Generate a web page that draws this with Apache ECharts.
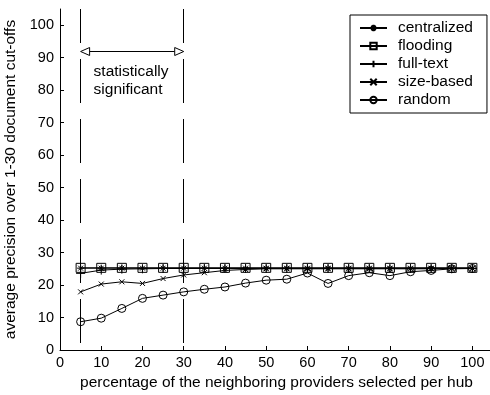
<!DOCTYPE html>
<html>
<head>
<meta charset="utf-8">
<script src="https://cdn.jsdelivr.net/npm/echarts@6/dist/echarts.min.js"></script>
<style>html,body{margin:0;padding:0;background:#fff}#c{width:490px;height:395px}</style>
</head>
<body>
<div id="c"></div>
<script>
var xValues = [5,10,15,20,25,30,35,40,45,50,55,60,65,70,75,80,85,90,95,100];
var centralized = [25.2,25.2,25.2,25.2,25.2,25.2,25.2,25.2,25.2,25.2,25.2,25.2,25.2,25.2,25.2,25.2,25.2,25.2,25.2,25.2];
var flooding = [25.3,25.3,25.3,25.3,25.3,25.3,25.3,25.3,25.3,25.3,25.3,25.3,25.3,25.3,25.3,25.3,25.3,25.3,25.3,25.3];
var fullText = [23.6,24.6,24.9,25.0,25.1,25.1,25.1,25.1,25.1,25.1,25.1,25.1,25.1,25.1,25.1,25.1,25.1,25.1,25.1,25.1];
var sizeBased = [17.9,20.3,21.0,20.5,22.0,23.1,23.8,24.5,24.8,25.0,25.0,25.0,25.0,25.0,25.0,25.0,25.0,25.0,25.1,25.1];
var random = [8.7,9.8,12.8,15.9,16.9,17.9,18.7,19.4,20.6,21.5,21.8,23.7,20.5,22.9,23.8,22.9,24.1,24.5,25.0,25.1];
var xTicks = [0,10,20,30,40,50,60,70,80,90,100];
var yTicks = [0,10,20,30,40,50,60,70,80,90,100];
var seriesNames = ['centralized','flooding','full-text','size-based','random'];
var sigRange = [5, 30];
var arrowY = 92;

var FONT = "'Liberation Sans', Arial, Helvetica, sans-serif";
function pairs(ys){ return xValues.map(function(x,i){ return [x, ys[i]]; }); }
var symbols = {
  'centralized': 'path://M0,5L10,5M5,0L5,10M1.5,1.5L8.5,8.5M8.5,1.5L1.5,8.5',
  'flooding': 'path://M0,0L10,0L10,10L0,10Z',
  'full-text': 'path://M0,5L10,5M5,0L5,10',
  'size-based': 'path://M0,0L10,10M10,0L0,10',
  'random': 'circle'
};
var sizes = {'centralized':7,'flooding':9,'full-text':9,'size-based':5,'random':8};
var dataMap = {'centralized':centralized,'flooding':flooding,'full-text':fullText,'size-based':sizeBased,'random':random};

var chart = echarts.init(document.getElementById('c'), null, {renderer:'canvas'});
var series = seriesNames.map(function(n, idx){
  var s = {
    name: n, type: 'line', data: pairs(dataMap[n]),
    symbol: symbols[n], symbolSize: sizes[n], showAllSymbol: true,
    lineStyle: {color:'#000', width:1},
    itemStyle: {color: 'rgba(0,0,0,0)', borderColor:'#000', borderWidth:1},
    z: 5 - idx
  };
  if (idx === 0) {
    s.markLine = {
      silent: true, symbol: 'none', label: {show:false},
      lineStyle: {color:'#000', width:1, type:[44,16], dashOffset: 10},
      data: [
        [{coord:[sigRange[0], 105]}, {coord:[sigRange[0], 0]}],
        [{coord:[sigRange[1], 105]}, {coord:[sigRange[1], 0]}]
      ]
    };
  }
  return s;
});

chart.setOption({
  animation: false,
  backgroundColor: '#fff',
  textStyle: {fontFamily: FONT},
  grid: {left: 60, right: -3, top: 9, bottom: 45, outerBoundsMode: 'none', containLabel: false},
  xAxis: {
    type: 'value', min: 0, max: 105,
    axisLine: {lineStyle: {color:'#000', width:1}},
    axisTick: {inside: true, length: 4, customValues: xTicks, lineStyle:{color:'#000'}},
    axisLabel: {customValues: xTicks, color:'#000', fontSize:14.5, fontFamily: FONT, margin: 5},
    splitLine: {show:false},
    name: 'percentage of the neighboring providers selected per hub',
    nameLocation: 'middle', nameGap: 23,
    nameTextStyle: {color:'#000', fontSize:15.5, fontFamily: FONT}
  },
  yAxis: {
    type: 'value', min: 0, max: 105,
    axisLine: {show:true, lineStyle: {color:'#000', width:1}},
    axisTick: {show:true, inside: true, length: 4, customValues: yTicks, lineStyle:{color:'#000'}},
    axisLabel: {customValues: yTicks, color:'#000', fontSize:14.5, fontFamily: FONT, margin: 6},
    splitLine: {show:false},
    name: 'average precision over 1-30 document cut-offs',
    nameLocation: 'middle', nameGap: 40,
    nameTextStyle: {color:'#000', fontSize:15.5, fontFamily: FONT}
  },
  legend: {
    orient: 'vertical', left: 350, top: 15,
    data: seriesNames,
    itemWidth: 27, itemHeight: 8, itemGap: 2,
    padding: [5, 14, 5, 9],
    borderColor: '#000', borderWidth: 1, borderRadius: 0,
    backgroundColor: '#fff',
    textStyle: {color:'#000', fontSize:15.5, fontFamily: FONT, padding:[0,0,0,6]}
  },
  series: series
});

var p0 = chart.convertToPixel({gridIndex:0}, [sigRange[0], arrowY]);
var p1 = chart.convertToPixel({gridIndex:0}, [sigRange[1], arrowY]);
var ay = Math.round(p0[1]) + 0.5;
var ah = 9, aw = 4;
chart.setOption({
  graphic: [
    {type:'line', shape:{x1:p0[0]+ah, y1:ay, x2:p1[0]-ah, y2:ay}, style:{stroke:'#000', lineWidth:1}, z:10},
    {type:'polygon', shape:{points:[[p0[0],ay],[p0[0]+ah,ay-aw],[p0[0]+ah,ay+aw]]}, style:{fill:'#fff', stroke:'#000', lineWidth:1}, z:10},
    {type:'polygon', shape:{points:[[p1[0],ay],[p1[0]-ah,ay-aw],[p1[0]-ah,ay+aw]]}, style:{fill:'#fff', stroke:'#000', lineWidth:1}, z:10},
    {type:'text', x: p0[0]+13, y: ay+11, style:{text:'statistically\nsignificant', fill:'#000', font:'15.5px ' + FONT, lineHeight:18}, z:10}
  ]
});
</script>
</body>
</html>
